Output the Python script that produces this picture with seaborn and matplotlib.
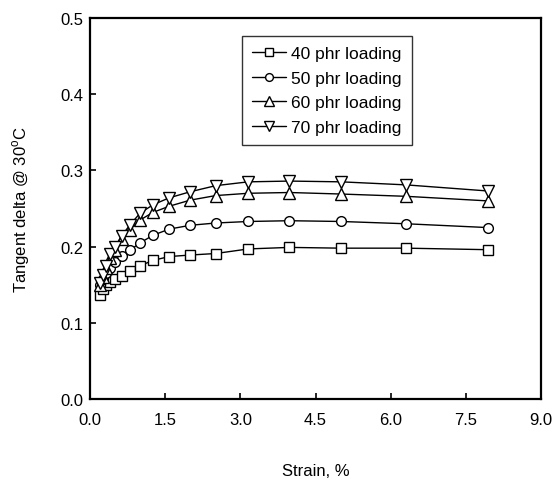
import numpy as np
import pandas as pd
import matplotlib
matplotlib.use("Agg")
import matplotlib.pyplot as plt
import seaborn as sns

# Strain sweep (%), log-spaced points
strain = [0.20, 0.25, 0.32, 0.40, 0.50, 0.63, 0.79, 1.00, 1.26, 1.58,
          2.00, 2.51, 3.16, 3.98, 5.01, 6.31, 7.94]

# Tangent delta at 30 C for each filler loading
tan_40 = [0.137, 0.145, 0.150, 0.153, 0.157, 0.162, 0.168, 0.175, 0.182, 0.187,
          0.189, 0.191, 0.197, 0.199, 0.198, 0.198, 0.196]
tan_50 = [0.150, 0.158, 0.165, 0.172, 0.180, 0.188, 0.195, 0.205, 0.215, 0.223,
          0.228, 0.231, 0.233, 0.234, 0.233, 0.230, 0.225]
tan_60 = [0.150, 0.160, 0.172, 0.185, 0.196, 0.210, 0.222, 0.235, 0.245, 0.253,
          0.261, 0.267, 0.270, 0.271, 0.269, 0.266, 0.260]
tan_70 = [0.152, 0.163, 0.175, 0.190, 0.200, 0.214, 0.228, 0.244, 0.255, 0.264,
          0.272, 0.280, 0.285, 0.286, 0.285, 0.281, 0.273]

series_names = ["40 phr loading", "50 phr loading", "60 phr loading", "70 phr loading"]
series_vals = [tan_40, tan_50, tan_60, tan_70]
series_markers = ["s", "o", "^", "v"]

x_ticks = [0.0, 1.5, 3.0, 4.5, 6.0, 7.5, 9.0]
y_ticks = [0.0, 0.1, 0.2, 0.3, 0.4, 0.5]

df = pd.DataFrame({
    "Strain": np.tile(strain, len(series_names)),
    "tan_delta": np.concatenate(series_vals),
    "Loading": np.repeat(series_names, len(strain)),
})

sns.set_style("ticks")
plt.rcParams["font.family"] = ["Liberation Sans", "DejaVu Sans"]
plt.rcParams["mathtext.fontset"] = "custom"
plt.rcParams["mathtext.rm"] = "Liberation Sans"
plt.rcParams["text.color"] = "black"
plt.rcParams["axes.labelcolor"] = "black"

fig = plt.figure(figsize=(5.54, 4.85), dpi=100)
ax = fig.add_axes([0.1625, 0.175, 0.814, 0.786])

sns.lineplot(
    data=df, x="Strain", y="tan_delta", hue="Loading", style="Loading",
    palette=["black"] * 4, markers=dict(zip(series_names, series_markers)),
    dashes=False, markersize=7, markerfacecolor="white", markeredgecolor="black",
    markeredgewidth=1.0, linewidth=1.0, ax=ax,
)

# triangles read a little larger than squares and circles
for ln in ax.lines:
    if ln.get_marker() in ("^", "v"):
        ln.set_markersize(8.5)

ax.set_xlim(0, 9)
ax.set_ylim(0, 0.5)
ax.set_xticks(x_ticks)
ax.set_yticks(y_ticks)
ax.set_xticklabels([f"{t:.1f}" for t in x_ticks])
ax.set_yticklabels([f"{t:.1f}" for t in y_ticks])
ax.tick_params(direction="in", length=4, width=1.2, labelsize=12, colors="black")
ax.tick_params(axis="x", pad=9)
ax.tick_params(axis="y", pad=5)

for sp in ax.spines.values():
    sp.set_visible(True)
    sp.set_linewidth(1.6)
    sp.set_color("black")

ax.set_xlabel("Strain, %", fontsize=12, labelpad=26)
ax.set_ylabel(r"Tangent delta @ 30$^{\mathrm{o}}$C", fontsize=12, labelpad=20)

leg = ax.legend(
    loc="upper left", bbox_to_anchor=(0.337, 0.952), frameon=True, fancybox=False,
    edgecolor="black", fontsize=12.5, handlelength=2.0, handletextpad=0.3,
    borderpad=0.55, labelspacing=0.55, borderaxespad=0, markerscale=0.8,
    labelcolor="black",
)
leg.get_frame().set_linewidth(1.0)

fig.savefig("out.png", dpi=100)
